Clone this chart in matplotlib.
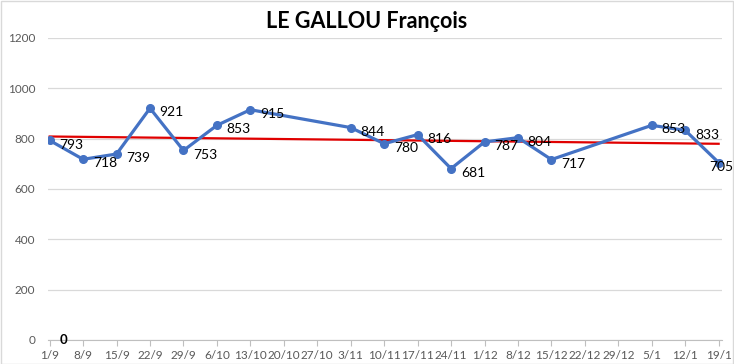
import numpy as np
import matplotlib
matplotlib.use("Agg")
import matplotlib.pyplot as plt
from matplotlib.patches import Rectangle

categories = ["1/9", "8/9", "15/9", "22/9", "29/9", "6/10", "13/10", "20/10", "27/10",
              "3/11", "10/11", "17/11", "24/11", "1/12", "8/12", "15/12", "22/12",
              "29/12", "5/1", "12/1", "19/1"]
values = [793, 718, 739, 921, 753, 853, 915, None, None,
          844, 780, 816, 681, 787, 804, 717, None,
          None, 853, 833, 705]
zero_label_value = 0
title = "LE GALLOU François"
yticks = [0, 200, 400, 600, 800, 1000, 1200]

plt.rcParams["font.family"] = ["Lato", "DejaVu Sans"]

W, H = 734, 364
fig = plt.figure(figsize=(W / 100, H / 100), dpi=100)
ax = fig.add_axes([48 / W, 1 - 340 / H, (722 - 48) / W, (340 - 38) / H])

x_all = np.arange(len(categories))
mask = np.array([v is not None for v in values])
xs = x_all[mask]
ys = np.array([v for v in values if v is not None], dtype=float)

blue = "#4472C4"
ax.plot(xs, ys, color=blue, lw=2.3, marker="o", ms=5.5, zorder=3,
        solid_joinstyle="round")
for i, (x, y) in enumerate(zip(xs, ys)):
    dx = 7 if i < len(xs) - 1 else -7
    ax.annotate(f"{int(y)}", (x, y), xytext=(dx, -3), textcoords="offset points",
                fontsize=10, ha="left", va="center", color="#000000", zorder=4,
                annotation_clip=False)

# linear trend line
coef = np.polyfit(xs, ys, 1)
xt = np.array([xs.min(), xs.max()])
ax.plot(xt, np.polyval(coef, xt), color="#E00000", lw=1.6, zorder=2)

# zero label
ax.text(0.4, zero_label_value, "0", fontsize=9.5, fontweight="bold",
        ha="center", va="center", color="black")

ax.set_xlim(-0.05, len(categories) - 1 + 0.1)
ax.set_ylim(0, 1200)
ax.set_yticks(yticks)
ax.set_yticklabels([str(t) for t in yticks], fontsize=8.5, color="#595959")
ax.set_xticks(x_all)
ax.set_xticklabels(categories, fontsize=8.5, color="#595959")
ax.tick_params(axis="y", length=0, pad=9)
ax.tick_params(axis="x", length=4, color="#BFBFBF", direction="out", pad=3)
ax.grid(axis="y", color="#D9D9D9", lw=0.9)
ax.set_axisbelow(True)
for s in ["top", "right", "left"]:
    ax.spines[s].set_visible(False)
ax.spines["bottom"].set_color("#BFBFBF")

fig.text(0.5, 1 - 22 / H, title, ha="center", va="center", fontsize=15.5,
         fontweight="bold", color="#000000")

fig.patches.append(Rectangle((0.5 / W, 0.5 / H), 1 - 1.5 / W, 1 - 1.5 / H,
                             transform=fig.transFigure, fill=False,
                             edgecolor="#D9D9D9", lw=1))

fig.savefig("out.png", dpi=100)
